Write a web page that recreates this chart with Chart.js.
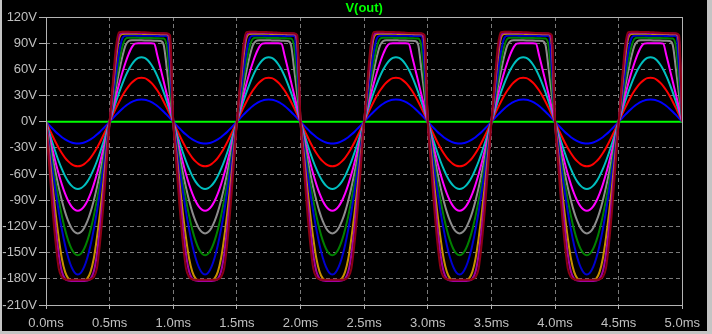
<!DOCTYPE html>
<html>
<head>
<meta charset="utf-8">
<title>V(out)</title>
<script src="https://cdn.jsdelivr.net/npm/chart.js@4.4.1/dist/chart.umd.min.js"></script>
<style>
  html, body { margin: 0; padding: 0; background: #c4c4c4; }
  #frame { position: absolute; left: 2px; top: 0; width: 705px; height: 331px; background: #000; }
  canvas { display: block; }
</style>
</head>
<body>
<div id="frame"><canvas id="plot" width="705" height="331"></canvas></div>
<script>
// sample times inside one 1 ms cycle of the drive signal (ms)
const cycleTimes = [0, 0.025, 0.05, 0.075, 0.1, 0.125, 0.15, 0.175, 0.2, 0.225, 0.25,
  0.275, 0.3, 0.325, 0.35, 0.375, 0.4, 0.425, 0.45, 0.475, 0.5,
  0.525, 0.55, 0.575, 0.6, 0.625, 0.65, 0.675, 0.7, 0.725, 0.75,
  0.775, 0.8, 0.825, 0.85, 0.875, 0.9, 0.925, 0.95, 0.975, 1.0];
// where each simulated cycle starts (ms)
const cycleStarts = [0, 1, 2, 3, 4];

const xTickValues = [0, 0.5, 1, 1.5, 2, 2.5, 3, 3.5, 4, 4.5, 5];
const xTickLabels = ['0.0ms', '0.5ms', '1.0ms', '1.5ms', '2.0ms', '2.5ms', '3.0ms', '3.5ms', '4.0ms', '4.5ms', '5.0ms'];
const yTickValues = [120, 90, 60, 30, 0, -30, -60, -90, -120, -150, -180, -210];
const yTickLabels = ['120V', '90V', '60V', '30V', '0V', '-30V', '-60V', '-90V', '-120V', '-150V', '-180V', '-210V'];

// V(out) over one cycle, one array per stepped input amplitude
const vStep0 = [0, 0, 0, 0, 0, 0, 0, 0, 0, 0, 0, 0, 0, 0, 0, 0, 0, 0, 0, 0, 0,
  0, 0, 0, 0, 0, 0, 0, 0, 0, 0, 0, 0, 0, 0, 0, 0, 0, 0, 0, 0];
const vStep1 = [0, -3.9, -7.7, -11.4, -14.7, -17.7, -20.2, -22.3, -23.8, -24.7, -25, -24.7, -23.8, -22.3, -20.2, -17.7, -14.7, -11.4, -7.7, -3.9, 0,
  3.9, 7.8, 11.5, 14.9, 18, 20.6, 22.7, 24.2, 25.1, 25.4, 25.1, 24.2, 22.7, 20.6, 18, 14.9, 11.5, 7.8, 3.9, 0];
const vStep2 = [0, -8, -15.8, -23.2, -30, -36.1, -41.3, -45.4, -48.5, -50.4, -51, -50.4, -48.5, -45.4, -41.3, -36.1, -30, -23.2, -15.8, -8, 0,
  7.9, 15.6, 22.9, 29.7, 35.7, 40.9, 45, 48, 49.9, 50.5, 49.9, 48, 45, 40.9, 35.7, 29.7, 22.9, 15.6, 7.9, 0];
const vStep3 = [0, -12, -23.8, -35, -45.3, -54.4, -62.3, -68.6, -73.2, -76.1, -77, -76.1, -73.2, -68.6, -62.3, -54.4, -45.3, -35, -23.8, -12, 0,
  11.6, 22.9, 33.6, 43.5, 52.3, 59.9, 65.9, 70.4, 73.1, 74, 73.1, 70.4, 65.9, 59.9, 52.3, 43.5, 33.6, 22.9, 11.6, 0];
const vStep4 = [0, -16, -31.5, -46.3, -60, -72.1, -82.5, -90.9, -97, -100.7, -102, -100.7, -97, -90.9, -82.5, -72.1, -60, -46.3, -31.5, -16, 0,
  15, 29.7, 43.6, 56.4, 67.9, 77.7, 85.5, 89.5, 90, 90, 90, 90, 90, 89.5, 76, 61, 46, 31, 15.5, 0];
const vStep5 = [0, -20, -39.6, -58.1, -75.2, -90.5, -103.6, -114, -121.7, -126.4, -128, -126.4, -121.7, -114, -103.6, -90.5, -75.2, -58.1, -39.6, -20, 0,
  19.9, 39.2, 57.7, 74.6, 87.5, 92.5, 93.5, 93.5, 93.4, 93.3, 93.2, 93.1, 93, 92.9, 92.8, 92.6, 88, 60, 30, 0];
const vStep6 = [0, -23.9, -47.3, -69.5, -89.9, -108.2, -123.8, -136.3, -145.5, -151.1, -153, -151.1, -145.5, -136.3, -123.8, -108.2, -89.9, -69.5, -47.3, -23.9, 0,
  23.5, 46.4, 68, 86, 95, 96.3, 96.3, 96.2, 96.1, 96, 96, 95.9, 95.8, 95.7, 95.6, 95.5, 95.4, 86, 43, 0];
const vStep7 = [0, -27.4, -54.1, -79.5, -102.9, -123.7, -141.6, -155.9, -166.4, -172.8, -175, -172.8, -166.4, -155.9, -141.6, -123.7, -102.9, -79.5, -54.1, -27.4, 0,
  28, 55, 80, 95.5, 98.6, 98.8, 98.7, 98.7, 98.6, 98.6, 98.5, 98.5, 98.4, 98.4, 98.3, 98.3, 98.2, 98.1, 62, 0];
const vStep8 = [0, -36, -71, -104, -133, -157, -172, -179.5, -182, -182.5, -182.5, -182.5, -182, -179.5, -172, -157, -133, -104, -71, -36, 0,
  37, 72, 96, 100.5, 100.9, 100.9, 100.8, 100.8, 100.7, 100.7, 100.6, 100.6, 100.5, 100.5, 100.4, 100.3, 100.2, 100.1, 88, 0];
const vStep9 = [0, -42, -82, -120, -152, -172, -180, -182, -182.5, -182.5, -182.5, -182.5, -182.5, -182, -180, -172, -152, -120, -82, -42, 0,
  40, 78, 99, 101.8, 102, 102, 101.9, 101.9, 101.8, 101.7, 101.6, 101.5, 101.4, 101.3, 101.2, 101.1, 101, 100.9, 92, 0];
const vStep10 = [0, -50, -98, -138, -168, -178, -180.5, -181, -181, -181, -181, -181, -181, -181, -180.5, -178, -168, -138, -98, -50, 0,
  44, 86, 102.5, 103, 103, 103, 102.9, 102.8, 102.7, 102.6, 102.4, 102.2, 102, 101.8, 101.6, 101.5, 101.4, 101.3, 99, 0];

const steps = [vStep0, vStep1, vStep2, vStep3, vStep4, vStep5, vStep6, vStep7, vStep8, vStep9, vStep10];
const stepColors = ['#00ff00', '#0000ff', '#ff0000', '#00bfbf', '#ff00ff', '#8c8c8c',
  '#008000', '#0000d0', '#c89000', '#a000a0', '#8c0014'];

// lay the cycle samples end to end over the whole run
function toPoints(values) {
  const pts = [];
  cycleStarts.forEach((t0, c) => {
    cycleTimes.forEach((t, k) => {
      if (c > 0 && k === 0) return;
      pts.push({ x: +(t0 + t).toFixed(3), y: values[k] });
    });
  });
  return pts;
}

const datasets = steps.map((values, i) => ({
  label: 'V(out) step ' + i,
  data: toPoints(values),
  borderColor: stepColors[i],
  borderWidth: 2,
  pointRadius: 0,
  cubicInterpolationMode: 'monotone',
  order: -i, // later steps drawn on top
}));

// plot frame and trace name
const frameAndTitle = {
  id: 'frameAndTitle',
  afterDatasetsDraw(chart) {
    const { ctx, chartArea: a } = chart;
    ctx.save();
    ctx.strokeStyle = '#b4b4b4';
    ctx.lineWidth = 1;
    ctx.setLineDash([]);
    ctx.strokeRect(Math.round(a.left) + 0.5, Math.round(a.top) + 0.5,
      Math.round(a.right - a.left), Math.round(a.bottom - a.top));
    ctx.fillStyle = '#00ff00';
    ctx.font = 'bold 13px "Liberation Sans", Arial, sans-serif';
    ctx.textAlign = 'center';
    ctx.textBaseline = 'middle';
    ctx.fillText('V(out)', (a.left + a.right) / 2, 8);
    ctx.restore();
  }
};

const tickFont = { family: '"Liberation Sans", Arial, sans-serif', size: 13 };

new Chart(document.getElementById('plot'), {
  type: 'line',
  data: { datasets },
  options: {
    responsive: false,
    animation: false,
    events: [],
    layout: { padding: { top: 17, right: 19, left: 0, bottom: 0 } },
    plugins: { legend: { display: false }, tooltip: { enabled: false } },
    scales: {
      x: {
        type: 'linear',
        min: 0,
        max: 5,
        afterBuildTicks: (scale) => { scale.ticks = xTickValues.map(v => ({ value: v })); },
        afterFit: (scale) => { scale.height = 26; },
        ticks: {
          color: '#c0c0c0',
          font: tickFont,
          padding: 7,
          maxRotation: 0,
          autoSkip: false,
          callback: (v) => xTickLabels[xTickValues.indexOf(v)],
        },
        grid: { color: '#7a7a7a', tickColor: '#b4b4b4', tickLength: 4, tickBorderDash: [] },
        border: { display: false, dash: [4, 3] },
      },
      y: {
        type: 'linear',
        min: -210,
        max: 120,
        afterBuildTicks: (scale) => { scale.ticks = yTickValues.slice().reverse().map(v => ({ value: v })); },
        afterFit: (scale) => { scale.width = 44; },
        ticks: {
          color: '#c0c0c0',
          font: tickFont,
          padding: 2,
          autoSkip: false,
          callback: (v) => yTickLabels[yTickValues.indexOf(v)],
        },
        grid: { color: '#7a7a7a', tickColor: '#b4b4b4', tickLength: 7, tickBorderDash: [] },
        border: { display: false, dash: [4, 3] },
      },
    },
  },
  plugins: [frameAndTitle],
});
</script>
</body>
</html>
